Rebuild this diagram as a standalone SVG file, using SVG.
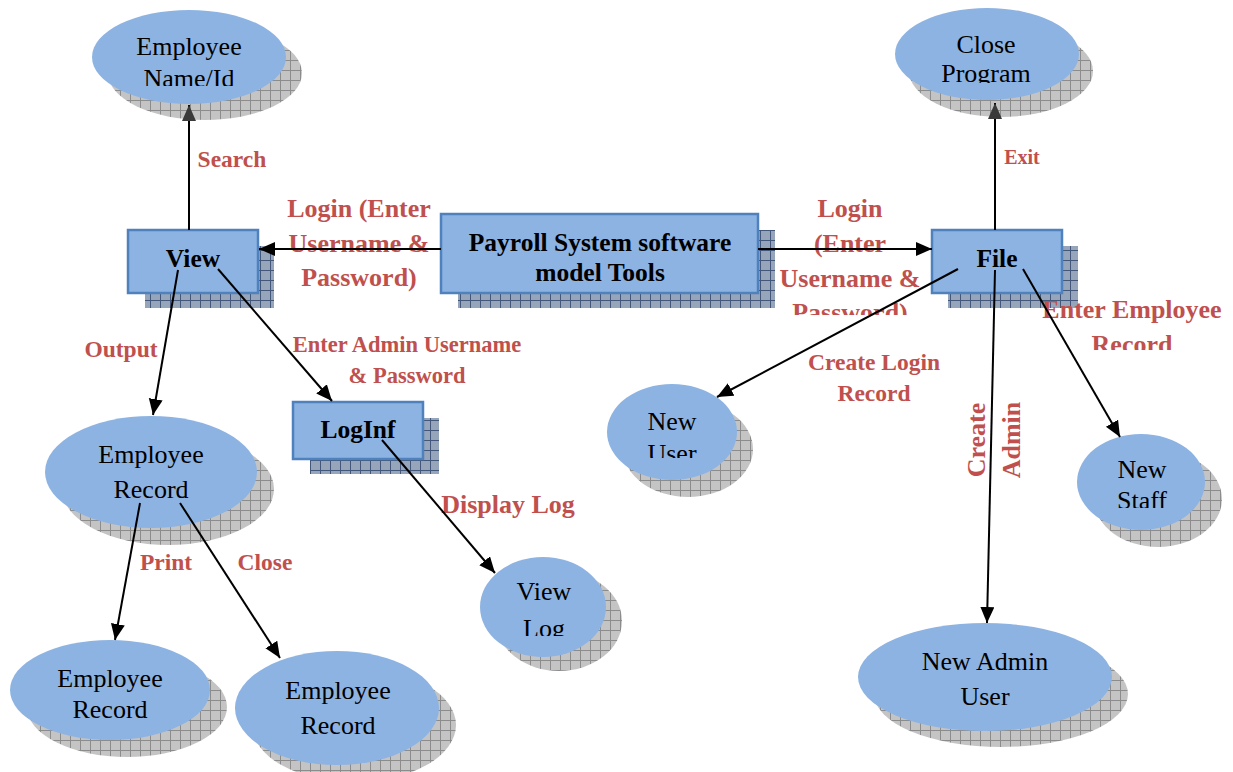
<svg xmlns="http://www.w3.org/2000/svg" width="1233" height="772" viewBox="0 0 1233 772">
<style>
.ell{fill:#8DB3E2;}
.box{fill:#8DB3E2;stroke:#4F81BD;stroke-width:2.5;}
.eshadow{fill:url(#gridGray);}
.bshadow{fill:url(#gridBlue);}
.nt{font-family:"Liberation Serif","Times New Roman",serif;font-size:26px;fill:#000;text-anchor:middle;}
.bt{font-family:"Liberation Serif","Times New Roman",serif;font-size:25.5px;font-weight:bold;fill:#000;text-anchor:middle;}
.lb{font-family:"Liberation Serif","Times New Roman",serif;font-size:23.5px;font-weight:bold;fill:#C0504D;text-anchor:middle;}
.lbl{font-size:26px;}
.ln{stroke:#000;stroke-width:2;fill:none;marker-end:url(#ah);}
.lng{stroke:#000;stroke-width:2;fill:none;marker-end:url(#ahg);}
</style>
<defs>
<pattern id="gridGray" patternUnits="userSpaceOnUse" width="10" height="10">
<rect width="10" height="10" fill="#c4c4c4"/>
<path d="M0,0.5 H10 M0.5,0 V10" stroke="#8c8c8c" stroke-width="1"/>
</pattern>
<pattern id="gridBlue" patternUnits="userSpaceOnUse" width="10" height="10">
<rect width="10" height="10" fill="#97a5ba"/>
<path d="M0,0.5 H10 M0.5,0 V10" stroke="#42577a" stroke-width="1"/>
</pattern>
<marker id="ah" markerUnits="userSpaceOnUse" markerWidth="18" markerHeight="16" refX="16" refY="7" orient="auto">
<path d="M0,0 L16,7 L0,14 z" fill="#000"/>
</marker>
<marker id="ahg" markerUnits="userSpaceOnUse" markerWidth="18" markerHeight="16" refX="16" refY="7" orient="auto">
<path d="M0,0 L16,7 L0,14 z" fill="#3a3a3a"/>
</marker>
<clipPath id="cNameId"><rect x="0" y="0" width="1233" height="86"/></clipPath>
<clipPath id="cClose"><rect x="0" y="0" width="1233" height="83"/></clipPath>
<clipPath id="cNewUser"><rect x="0" y="0" width="1233" height="458"/></clipPath>
<clipPath id="cNewStaff"><rect x="0" y="0" width="1233" height="508"/></clipPath>
<clipPath id="cViewLog"><rect x="0" y="0" width="1233" height="636"/></clipPath>
<clipPath id="cPwdR"><rect x="0" y="0" width="1233" height="315"/></clipPath>
<clipPath id="cRecR"><rect x="0" y="0" width="1233" height="350"/></clipPath>
</defs>

<g id="node-employee-nameid">
<ellipse class="eshadow" cx="205" cy="73" rx="97" ry="47"/>
<ellipse class="ell" cx="189" cy="57" rx="97" ry="47"/>
<text class="nt" x="189" y="55">Employee</text>
<text class="nt" x="189" y="87" clip-path="url(#cNameId)">Name/Id</text>
</g>

<g id="node-close-program">
<ellipse class="eshadow" cx="1001" cy="71" rx="92" ry="46"/>
<ellipse class="ell" cx="987" cy="54" rx="92" ry="46"/>
<text class="nt" x="986" y="53">Close</text>
<text class="nt" x="986" y="82" clip-path="url(#cClose)">Program</text>
</g>

<g id="node-view">
<rect class="bshadow" x="145" y="246" width="129" height="62"/>
<rect class="box" x="128" y="230" width="130" height="63"/>
<text class="bt" x="193" y="267">View</text>
</g>

<g id="node-payroll">
<rect class="bshadow" x="458" y="230" width="317" height="78"/>
<rect class="box" x="441" y="214" width="317" height="79"/>
<text class="bt" x="600" y="251">Payroll System software</text>
<text class="bt" x="600" y="281">model Tools</text>
</g>

<g id="node-file">
<rect class="bshadow" x="948" y="246" width="130" height="62"/>
<rect class="box" x="932" y="230" width="130" height="63"/>
<text class="bt" x="997" y="267">File</text>
</g>

<g id="node-loginf">
<rect class="bshadow" x="310" y="418" width="129" height="56"/>
<rect class="box" x="293" y="402" width="130" height="57"/>
<text class="bt" x="358" y="438">LogInf</text>
</g>

<g id="node-employee-record">
<ellipse class="eshadow" cx="168" cy="489" rx="106" ry="56"/>
<ellipse class="ell" cx="151" cy="472" rx="106" ry="56"/>
<text class="nt" x="151" y="463">Employee</text>
<text class="nt" x="151" y="498">Record</text>
</g>

<g id="node-employee-record-print">
<ellipse class="eshadow" cx="127" cy="707" rx="100" ry="50"/>
<ellipse class="ell" cx="110" cy="690" rx="100" ry="50"/>
<text class="nt" x="110" y="687">Employee</text>
<text class="nt" x="110" y="718">Record</text>
</g>

<g id="node-employee-record-close">
<ellipse class="eshadow" cx="354" cy="725" rx="102" ry="57"/>
<ellipse class="ell" cx="337" cy="708" rx="102" ry="57"/>
<text class="nt" x="338" y="699">Employee</text>
<text class="nt" x="338" y="734">Record</text>
</g>

<g id="node-view-log">
<ellipse class="eshadow" cx="559" cy="621" rx="63" ry="50"/>
<ellipse class="ell" cx="543" cy="607" rx="63" ry="50"/>
<text class="nt" x="544" y="600">View</text>
<text class="nt" x="544" y="637" clip-path="url(#cViewLog)">Log</text>
</g>

<g id="node-new-user">
<ellipse class="eshadow" cx="688" cy="449" rx="65" ry="48"/>
<ellipse class="ell" cx="672" cy="432" rx="65" ry="48"/>
<text class="nt" x="672" y="430">New</text>
<text class="nt" x="672" y="462" clip-path="url(#cNewUser)">User</text>
</g>

<g id="node-new-staff">
<ellipse class="eshadow" cx="1158" cy="499" rx="64" ry="48"/>
<ellipse class="ell" cx="1141" cy="482" rx="64" ry="48"/>
<text class="nt" x="1142" y="478">New</text>
<text class="nt" x="1142" y="509" clip-path="url(#cNewStaff)">Staff</text>
</g>

<g id="node-new-admin">
<ellipse class="eshadow" cx="1001" cy="694" rx="127" ry="53"/>
<ellipse class="ell" cx="985" cy="677" rx="127" ry="54"/>
<text class="nt" x="985" y="670">New Admin</text>
<text class="nt" x="985" y="705">User</text>
</g>

<g id="labels">
<text class="lb" x="232" y="167">Search</text>
<text class="lb lbl" x="359" y="217">Login (Enter</text>
<text class="lb lbl" x="359" y="252">Username &amp;</text>
<text class="lb lbl" x="359" y="286">Password)</text>
<text class="lb lbl" x="850" y="217">Login</text>
<text class="lb lbl" x="850" y="252">(Enter</text>
<text class="lb lbl" x="850" y="287">Username &amp;</text>
<text class="lb lbl" x="850" y="321" clip-path="url(#cPwdR)">Password)</text>
<text class="lb" x="1022" y="164" style="font-size:20px">Exit</text>
<text class="lb lbl" x="1132" y="318">Enter Employee</text>
<text class="lb lbl" x="1132" y="353" clip-path="url(#cRecR)">Record</text>
<text class="lb" x="121" y="357">Output</text>
<text class="lb" x="407" y="352" style="font-size:22.5px">Enter Admin Username</text>
<text class="lb" x="407" y="383" style="font-size:22.5px">&amp; Password</text>
<text class="lb" x="874" y="370">Create Login</text>
<text class="lb" x="874" y="401">Record</text>
<text class="lb lbl" transform="translate(985,440) rotate(-90)" x="0" y="0">Create</text>
<text class="lb lbl" transform="translate(1020,440) rotate(-90)" x="0" y="0">Admin</text>
<text class="lb lbl" x="508" y="513">Display Log</text>
<text class="lb" x="166" y="570">Print</text>
<text class="lb" x="265" y="570">Close</text>
</g>

<g id="connectors">
<line class="lng" x1="189" y1="230" x2="189" y2="105"/>
<line class="ln" x1="441" y1="249" x2="259" y2="249"/>
<line class="ln" x1="758" y1="249" x2="932" y2="249"/>
<line class="lng" x1="995" y1="230" x2="995" y2="103"/>
<line class="ln" x1="178" y1="270" x2="153" y2="415"/>
<line class="ln" x1="218" y1="269" x2="332" y2="401"/>
<line class="ln" x1="382" y1="440" x2="495" y2="573"/>
<line class="ln" x1="958" y1="269" x2="717" y2="397"/>
<line class="ln" x1="995" y1="270" x2="987" y2="623"/>
<line class="ln" x1="1023" y1="269" x2="1120" y2="437"/>
<line class="ln" x1="140" y1="503" x2="115" y2="640"/>
<line class="ln" x1="180" y1="503" x2="280" y2="658"/>
</g>
</svg>
